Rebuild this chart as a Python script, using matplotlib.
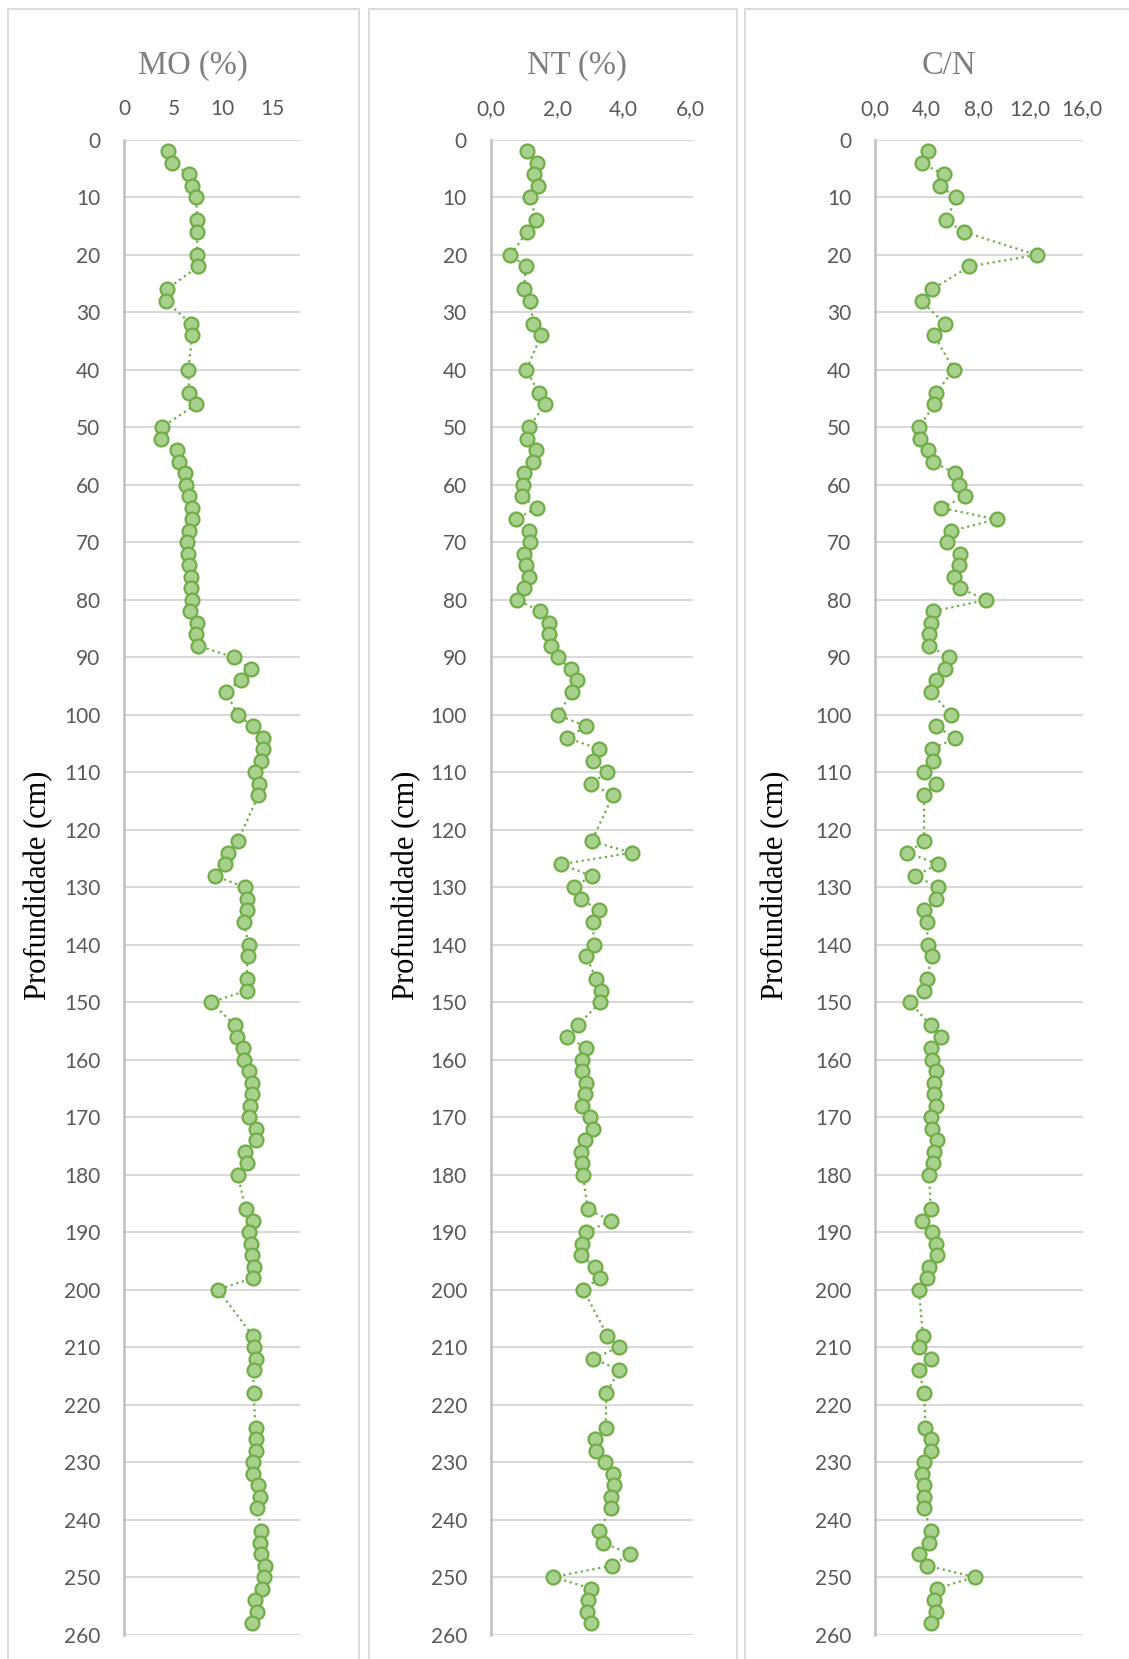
import matplotlib
matplotlib.use("Agg")
import matplotlib.pyplot as plt
from matplotlib.patches import Rectangle

# profundidade das amostras (cm)
profundidade = [2, 4, 6, 8, 10, 14, 16, 20, 22, 26, 28, 32, 34, 40, 44, 46,
                50, 52, 54, 56, 58, 60, 62, 64, 66, 68, 70, 72, 74, 76, 78, 80,
                82, 84, 86, 88, 90, 92, 94, 96, 100, 102, 104, 106, 108, 110,
                112, 114, 122, 124, 126, 128, 130, 132, 134, 136, 140, 142,
                146, 148, 150, 154, 156, 158, 160, 162, 164, 166, 168, 170,
                172, 174, 176, 178, 180, 186, 188, 190, 192, 194, 196, 198,
                200, 208, 210, 212, 214, 218, 224, 226, 228, 230, 232, 234,
                236, 238, 242, 244, 246, 248, 250, 252, 254, 256, 258]

mo = [4.4, 4.9, 6.6, 6.9, 7.3, 7.4, 7.4, 7.4, 7.5, 4.3, 4.2, 6.8, 6.9, 6.5, 6.6, 7.3,
      3.8, 3.7, 5.4, 5.6, 6.2, 6.3, 6.6, 6.9, 6.9, 6.6, 6.4, 6.5, 6.6, 6.8, 6.8, 6.9,
      6.7, 7.4, 7.3, 7.5, 11.1, 12.8, 11.8, 10.3, 11.5, 13.0, 14.1, 14.1, 13.9, 13.2,
      13.7, 13.6, 11.5, 10.5, 10.2, 9.2, 12.2, 12.4, 12.4, 12.1, 12.6, 12.5,
      12.4, 12.4, 8.8, 11.2, 11.4, 12.0, 12.1, 12.6, 12.9, 12.9, 12.7, 12.6,
      13.4, 13.4, 12.2, 12.4, 11.5, 12.3, 13.0, 12.6, 12.8, 12.9, 13.1, 13.0,
      9.5, 13.0, 13.1, 13.3, 13.1, 13.1, 13.3, 13.3, 13.4, 13.0, 13.0, 13.6,
      13.8, 13.5, 13.9, 13.8, 13.9, 14.3, 14.2, 14.0, 13.2, 13.5, 12.9]

nt = [1.11, 1.40, 1.30, 1.44, 1.19, 1.38, 1.10, 0.60, 1.06, 1.01, 1.19, 1.29, 1.52, 1.08, 1.45, 1.64,
      1.15, 1.09, 1.37, 1.27, 1.02, 0.98, 0.96, 1.39, 0.76, 1.16, 1.19, 1.00, 1.06, 1.15, 1.02, 0.80,
      1.50, 1.76, 1.75, 1.83, 2.02, 2.41, 2.60, 2.46, 2.02, 2.87, 2.31, 3.27, 3.08, 3.51,
      3.02, 3.68, 3.04, 4.24, 2.11, 3.04, 2.51, 2.72, 3.25, 3.07, 3.12, 2.88,
      3.18, 3.31, 3.30, 2.62, 2.30, 2.88, 2.76, 2.74, 2.86, 2.85, 2.75, 2.98,
      3.09, 2.85, 2.73, 2.76, 2.78, 2.92, 3.62, 2.87, 2.74, 2.72, 3.13, 3.28,
      2.79, 3.51, 3.85, 3.09, 3.87, 3.48, 3.46, 3.13, 3.17, 3.43, 3.67, 3.70,
      3.63, 3.61, 3.27, 3.38, 4.19, 3.66, 1.89, 3.02, 2.92, 2.91, 3.03]

cn = [4.1, 3.6, 5.3, 5.0, 6.3, 5.5, 6.9, 12.5, 7.3, 4.4, 3.6, 5.4, 4.6, 6.1, 4.7, 4.6,
      3.4, 3.5, 4.1, 4.5, 6.2, 6.5, 7.0, 5.1, 9.4, 5.9, 5.6, 6.6, 6.5, 6.1, 6.6, 8.6,
      4.5, 4.3, 4.2, 4.2, 5.7, 5.4, 4.7, 4.3, 5.9, 4.7, 6.2, 4.4, 4.5, 3.8,
      4.7, 3.8, 3.8, 2.5, 4.9, 3.1, 4.9, 4.7, 3.8, 4.0, 4.1, 4.4,
      4.0, 3.8, 2.7, 4.3, 5.1, 4.3, 4.4, 4.7, 4.6, 4.6, 4.7, 4.3,
      4.4, 4.8, 4.6, 4.5, 4.2, 4.3, 3.6, 4.4, 4.7, 4.8, 4.2, 4.0,
      3.4, 3.7, 3.4, 4.3, 3.4, 3.8, 3.9, 4.3, 4.3, 3.8, 3.6, 3.8,
      3.8, 3.8, 4.3, 4.2, 3.4, 4.0, 7.7, 4.8, 4.6, 4.7, 4.3]

W, H = 1129, 1659
fig = plt.figure(figsize=(W / 100, H / 100), dpi=100)


def px_axes(x0, x1, y0, y1):
    # pixel box -> figure fraction
    return fig.add_axes([x0 / W, 1 - y1 / H, (x1 - x0) / W, (y1 - y0) / H])


# molduras dos graficos
for (x0, x1) in [(7.5, 358.5), (368.5, 736.5), (744.5, 1140)]:
    fig.patches.append(Rectangle((x0 / W, -0.01), (x1 - x0) / W, (H - 8.5) / H + 0.01,
                                 transform=fig.transFigure, fill=False,
                                 edgecolor="#d9d9d9", linewidth=1.3))

paineis = [
    (mo, (124, 300), (0, 17.8), [0, 5, 10, 15], lambda v: f"{v:d}", "MO (%)", 193, 39),
    (nt, (490.5, 692.5), (0, 6.07), [0, 2, 4, 6], lambda v: f"{v:.1f}".replace(".", ","), "NT (%)", 577, 407),
    (cn, (875, 1082.5), (0, 16.05), [0, 4, 8, 12, 16], lambda v: f"{v:.1f}".replace(".", ","), "C/N", 949, 776),
]

for valores, (x0, x1), xlim, xticks, fmt, titulo, tx, lx in paineis:
    ax = px_axes(x0, x1, 140, 1634.5)
    ax.plot(valores, profundidade, linestyle=":", color="#70ad47", linewidth=1.6,
            marker="o", markersize=10, markerfacecolor="#a9d18e",
            markeredgecolor="#70ad47", markeredgewidth=1.6, clip_on=False, zorder=3)
    ax.set_xlim(*xlim)
    ax.set_ylim(260, 0)
    ax.xaxis.tick_top()
    ax.set_xticks(xticks)
    ax.set_xticklabels([fmt(v) for v in xticks])
    ax.set_yticks(range(0, 261, 10))
    ax.tick_params(axis="both", length=0, labelsize=15, labelcolor="#595959")
    ax.tick_params(axis="x", pad=15)
    ax.tick_params(axis="y", pad=17)
    for lab in ax.get_xticklabels() + ax.get_yticklabels():
        lab.set_family(["Lato", "DejaVu Sans"])
    ax.grid(axis="y", color="#d9d9d9", linewidth=1.5)
    ax.set_axisbelow(True)
    for s in ["top", "right", "bottom"]:
        ax.spines[s].set_visible(False)
    ax.spines["left"].set_color("#bfbfbf")
    ax.spines["left"].set_linewidth(1.8)

    fig.text(tx / W, 1 - 66 / H, titulo, ha="center", va="center", fontsize=23.5,
             color="#7f7f7f", family="Liberation Serif")
    fig.text(lx / W, 1 - 885 / H, "Profundidade (cm)", ha="center", va="center",
             rotation=90, fontsize=22, color="black", family="Liberation Serif")

fig.savefig("out.png", dpi=100)
